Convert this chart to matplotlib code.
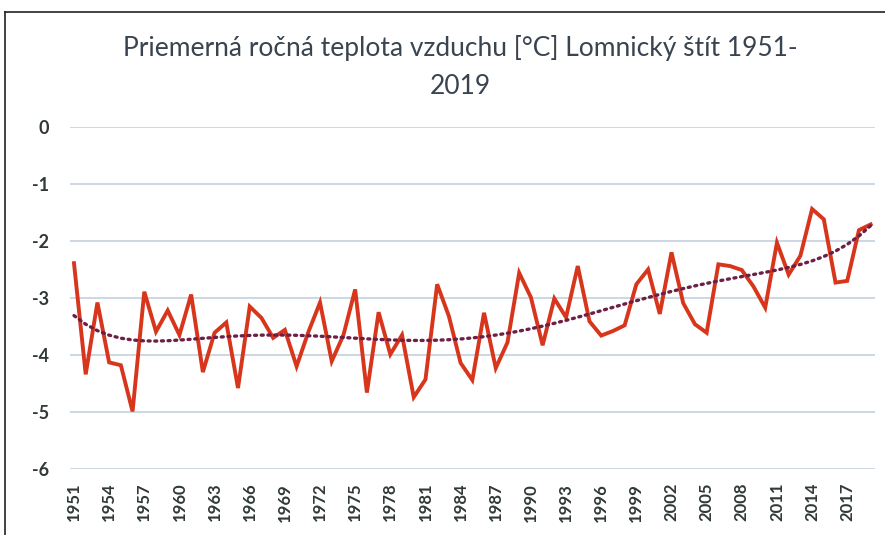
import numpy as np
import matplotlib.pyplot as plt

years = np.arange(1951, 2020)
temps = [-2.39, -4.34, -3.08, -4.13, -4.18, -4.99, -2.89, -3.59, -3.22, -3.65,
         -2.94, -4.30, -3.61, -3.43, -4.58, -3.15, -3.35, -3.70, -3.56, -4.20,
         -3.60, -3.08, -4.11, -3.65, -2.85, -4.66, -3.25, -3.99, -3.65, -4.74,
         -4.43, -2.76, -3.32, -4.14, -4.44, -3.26, -4.23, -3.78, -2.56, -2.99,
         -3.83, -3.01, -3.34, -2.44, -3.41, -3.66, -3.58, -3.48, -2.76, -2.50,
         -3.28, -2.20, -3.09, -3.46, -3.61, -2.41, -2.44, -2.51, -2.80, -3.17,
         -2.03, -2.59, -2.26, -1.44, -1.62, -2.73, -2.70, -1.81, -1.71]
tick_years = np.arange(1951, 2018, 3)
y_ticks = [0, -1, -2, -3, -4, -5, -6]
title = "Priemerná ročná teplota vzduchu [°C] Lomnický štít 1951-\n2019"

plt.rcParams['font.family'] = ['Lato', 'DejaVu Sans']

fig = plt.figure(figsize=(8.85, 5.35), dpi=100)
ax = fig.add_axes([0.0791, 0.1234, 0.9096, 0.6393])

# polynomial trendline (order 6, as in the spreadsheet)
xs = (years - 1985) / 34.0
coef = np.polyfit(xs, temps, 6)
trend = np.polyval(coef, xs)

ax.plot(years, temps, color='#d8361c', lw=2.8, solid_joinstyle='miter', zorder=3)
ax.plot(years, trend, color='#6e1f45', lw=2.4, linestyle=(0, (0.6, 1.4)),
        dash_capstyle='round', zorder=4)

ax.set_xlim(1950.66, 2019.37)
ax.set_ylim(-6, 0)
ax.set_yticks(y_ticks)
ax.set_yticklabels([str(v) for v in y_ticks], fontweight='bold', fontsize=13)
ax.set_xticks(tick_years)
ax.set_xticklabels([str(v) for v in tick_years], rotation=90,
                   fontweight='bold', fontsize=12)
ax.tick_params(axis='both', length=0, colors='#303838')
ax.tick_params(axis='y', pad=15)
ax.tick_params(axis='x', pad=10)
ax.yaxis.grid(True, color='#ccd7e2', lw=1.4)
ax.set_axisbelow(True)
for s in ax.spines.values():
    s.set_visible(False)

fig.text(0.52, 0.935, title, ha='center', va='top', fontsize=19,
         color='#3a4450', linespacing=1.65)

# frame of the original picture (top and left edges)
fig.add_artist(plt.Line2D([0.006, 1.0], [0.978, 0.978], color='#222222', lw=1.2))
fig.add_artist(plt.Line2D([0.006, 0.006], [0.0, 0.978], color='#222222', lw=1.2))

fig.savefig('out.png', dpi=100)
